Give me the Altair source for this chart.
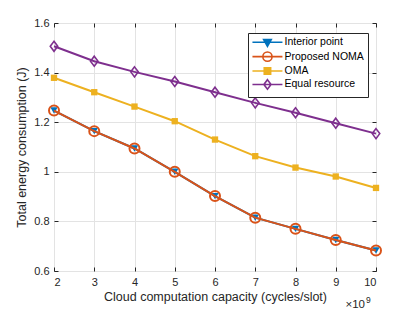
import altair as alt
import pandas as pd

# ---- data ----
x_vals = [2, 3, 4, 5, 6, 7, 8, 9, 10]
interior = [1.247, 1.164, 1.094, 1.000, 0.902, 0.815, 0.770, 0.725, 0.683]
noma = [1.247, 1.164, 1.094, 1.000, 0.902, 0.815, 0.770, 0.725, 0.683]
oma = [1.379, 1.321, 1.263, 1.204, 1.130, 1.063, 1.017, 0.981, 0.935]
equal = [1.506, 1.446, 1.403, 1.364, 1.321, 1.278, 1.238, 1.196, 1.154]
series_names = ["Interior point", "Proposed NOMA", "OMA", "Equal resource"]
colors = ["#0072BD", "#D95319", "#EDB120", "#7E2F8E"]
y_ticks = [0.6, 0.8, 1.0, 1.2, 1.4, 1.6]
x_ticks = x_vals
x_title = "Cloud computation capacity (cycles/slot)"
y_title = "Total energy consumption (J)"
exp_base = ["×10"]
exp_pow = ["9"]

rows = []
for name, vals in zip(series_names, [interior, noma, oma, equal]):
    for xv, yv in zip(x_vals, vals):
        rows.append({"x": xv, "y": yv, "series": name})
df = pd.DataFrame(rows)

FONT = "Liberation Sans"
INK = "#262626"
W, H = 322, 248

xs = alt.Scale(domain=[2, 10], nice=False, zero=False)
ys = alt.Scale(domain=[0.6, 1.6], nice=False, zero=False)

x_axis = alt.Axis(values=x_ticks, title=x_title, grid=True, gridColor="#e3e3e3",
                  domain=False, tickSize=4, offset=-4, tickColor=INK, labelPadding=5,
                  labelFontSize=11, labelColor=INK, labelFont=FONT,
                  titleFont=FONT, titleFontSize=12.5, titleColor=INK,
                  titleFontWeight="normal", titlePadding=3)
y_axis = alt.Axis(values=y_ticks, format="~g", title=y_title, grid=True, gridColor="#e3e3e3",
                  domain=False, tickSize=4, offset=-4, tickColor=INK, labelPadding=5,
                  labelFontSize=11, labelColor=INK, labelFont=FONT,
                  titleFont=FONT, titleFontSize=12.5, titleColor=INK,
                  titleFontWeight="normal", titlePadding=5)
x_top = alt.Axis(values=x_ticks, orient="top", labels=False, title=None, grid=False,
                 domain=False, tickSize=4, offset=-4, tickColor=INK)
y_right = alt.Axis(values=y_ticks, orient="right", labels=False, title=None, grid=False,
                   domain=False, tickSize=4, offset=-4, tickColor=INK)

# legend symbols: line segment + marker (units: 1 = 4px at symbolSize 64),
# shifted right by 2.55 units so the nominal symbol box stays at the left
legend_paths = [
    "M-1.2,0H6.3M1.6,-0.7L3.5,-0.7L2.55,1.0ZM2.05,-0.4L3.05,-0.4L2.55,0.45Z",
    "M-1.2,0H6.3M1.4,0A1.15,1.15 0 1,0 3.7,0A1.15,1.15 0 1,0 1.4,0Z",
    "M-1.2,0H6.3M1.75,-0.8H3.35V0.8H1.75ZM2.15,-0.4H2.95V0.4H2.15Z",
    "M-1.2,0H6.3M2.55,-1.2L3.45,0L2.55,1.2L1.65,0Z",
]
cs = alt.Scale(domain=series_names, range=colors)
ss = alt.Scale(domain=series_names, range=legend_paths)
legend = alt.Legend(title=None, orient="none", legendX=194, legendY=10,
                    symbolSize=64, symbolStrokeWidth=1.6, symbolOffset=0,
                    labelOffset=22, labelFont=FONT, labelFontSize=10.5,
                    labelColor="#000000", padding=4, rowPadding=-1.6,
                    strokeColor=INK, fillColor="white", cornerRadius=0)

marker_styles = [
    dict(shape="triangle-down", filled=True, size=55, strokeWidth=1),
    dict(shape="circle", filled=False, size=100, strokeWidth=2),
    dict(shape="square", filled=True, size=40, strokeWidth=1),
    dict(shape="M0,-1L0.75,0L0,1L-0.75,0Z", filled=False, size=100, strokeWidth=1.6),
]

layers = []
for i, (name, col, ms) in enumerate(zip(series_names, colors, marker_styles)):
    base = alt.Chart(df).transform_filter(alt.datum.series == name)
    ax = x_axis if i == 0 else None
    ay = y_axis if i == 0 else None
    line = base.mark_line(color=col, strokeWidth=2).encode(
        x=alt.X("x:Q", scale=xs, axis=ax),
        y=alt.Y("y:Q", scale=ys, axis=ay),
    )
    pts = base.mark_point(color=col, opacity=1, **ms).encode(
        x=alt.X("x:Q", scale=xs, axis=None),
        y=alt.Y("y:Q", scale=ys, axis=None),
    )
    layers += [line, pts]

legend_layer = alt.Chart(df).transform_filter("false").mark_point(filled=False, opacity=1).encode(
    x=alt.X("x:Q", scale=xs, axis=None),
    y=alt.Y("y:Q", scale=ys, axis=None),
    color=alt.Color("series:N", scale=cs, legend=legend),
    shape=alt.Shape("series:N", scale=ss, legend=legend),
)

tick_layer = alt.Chart(df).mark_point(opacity=0).encode(
    x=alt.X("x:Q", scale=xs, axis=x_top),
    y=alt.Y("y:Q", scale=ys, axis=y_right),
)

exp1 = alt.Chart(pd.DataFrame({"t": exp_base})).mark_text(
    font=FONT, fontSize=11.5, color=INK, align="right", baseline="middle").encode(
    text="t:N", x=alt.value(311), y=alt.value(282))
exp2 = alt.Chart(pd.DataFrame({"t": exp_pow})).mark_text(
    font=FONT, fontSize=8.5, color=INK, align="left", baseline="middle").encode(
    text="t:N", x=alt.value(312), y=alt.value(277))

chart = alt.layer(*layers, legend_layer, tick_layer, exp1, exp2).resolve_axis(
    x="independent", y="independent"
).properties(
    width=W, height=H,
    autosize=alt.AutoSizeParams(type="none"),
    padding={"left": 46, "top": 15, "right": 25, "bottom": 38},
    background="white",
).configure_view(stroke=INK, strokeWidth=1, fill="white")

chart.save("out.html", embed_options={"renderer": "svg", "actions": False})
